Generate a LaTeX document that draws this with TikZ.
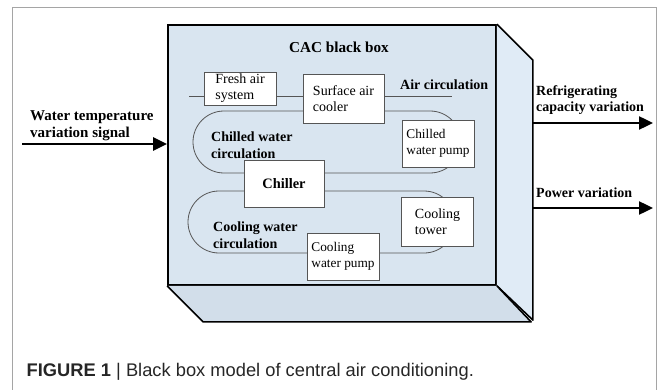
\documentclass[tikz,border=0pt]{standalone}
\usepackage{fontspec}
\setmainfont{Liberation Serif}
\newfontfamily\capfont{Liberation Sans}
\usepackage{tikz}
\usetikzlibrary{arrows.meta,positioning,calc}

\definecolor{frontblue}{RGB}{217,229,240}
\definecolor{sideblue}{RGB}{224,235,246}
\definecolor{bottomblue}{RGB}{210,222,234}
\definecolor{loopgray}{RGB}{85,85,85}
\definecolor{framegray}{RGB}{165,165,165}

\begin{document}
\begin{tikzpicture}[x=1pt, y=-1pt,
    unitbox/.style={draw=loopgray, line width=0.9pt, fill=white, inner sep=0pt, align=left,
                    font=\fontsize{14}{16}\selectfont},
    smallunit/.style={unitbox, font=\fontsize{13.3}{15.5}\selectfont},
    boldlabel/.style={inner sep=0pt, anchor=west, align=left, font=\fontsize{14}{16.5}\selectfont\bfseries},
    loop/.style={draw=loopgray, line width=0.8pt, rounded corners=31pt},
    signal/.style={line width=2.4pt, -{Triangle[length=14pt,width=13pt]}}]
    \useasboundingbox (0,0) rectangle (663,390);
    \draw[framegray, line width=1.2pt] (12.5,400) -- (12.5,7.5) -- (656.5,7.5) -- (656.5,400);

    % the black box, front face first
    \node[draw, line width=1.8pt, fill=frontblue, minimum width=328pt, minimum height=260pt] (front) at (332,155) {};
    \filldraw[fill=sideblue, line width=1.6pt, line join=round] (front.north east) -- ++(36,36) -- ++(0,260) -- (front.south east);
    \filldraw[fill=bottomblue, line width=1.6pt, line join=round] (front.south west) -- ++(36,36) -- ++(328,0) -- (front.south east);
    \coordinate (rside) at ($(front.east)+(36,0)$);

    \node[boldlabel, anchor=center, font=\fontsize{15.2}{17}\selectfont\bfseries] (title) at (339,47) {CAC black box};

    % circulation loops behind the units
    \draw[loopgray, line width=0.8pt] (189,96) -- (452,96);
    \draw[loop] (193,111) rectangle (461,173);
    \draw[loop] (188,191) rectangle (455,253);

    \node[unitbox, minimum width=72pt, minimum height=33pt] (fresh) at (240,88.5) {Fresh air\\system};
    \node[unitbox, minimum width=81pt, minimum height=49pt] (cooler) at (343.5,98.5) {Surface air\\cooler};
    \node[smallunit, minimum width=72pt, minimum height=47pt] (chpump) at (438,143.5) {Chilled\\water pump};
    \node[unitbox, minimum width=80pt, minimum height=47pt, font=\fontsize{14.4}{16}\selectfont\bfseries] (chiller) at (284,183.5) {Chiller};
    \node[unitbox, minimum width=72pt, minimum height=49pt] (tower) at (437.5,221.5) {Cooling\\tower};
    \node[smallunit, minimum width=72pt, minimum height=47pt] (cwpump) at (343,256.5) {Cooling\\water pump};

    \node[boldlabel] (air) at (400,85) {Air circulation};
    \node[boldlabel] (chloop) at (211,145) {Chilled water\\circulation};
    \node[boldlabel] (cwloop) at (213,235) {Cooling water\\circulation};

    % input and outputs
    \coordinate (src) at (22,144);
    \draw[signal] (src) -- (src -| front.west);
    \node[boldlabel, font=\fontsize{15}{17}\selectfont\bfseries] (inlabel) at (30,125.5) {Water temperature\\variation signal};

    \coordinate (out1) at (653,123);
    \coordinate (out2) at (653,208);
    \draw[signal] (rside |- out1) -- (out1);
    \draw[signal] (rside |- out2) -- (out2);
    \node[boldlabel] (caplabel) at (536,100) {Refrigerating\\capacity variation};
    \node[boldlabel] (powlabel) at (536,193) {Power variation};

    \node[inner sep=0pt, anchor=base west, font=\capfont\fontsize{18.3}{21}\selectfont, text=black!85] (caption) at (26.5,376.5)
        {\textbf{FIGURE 1} | Black box model of central air conditioning.};
\end{tikzpicture}
\end{document}
